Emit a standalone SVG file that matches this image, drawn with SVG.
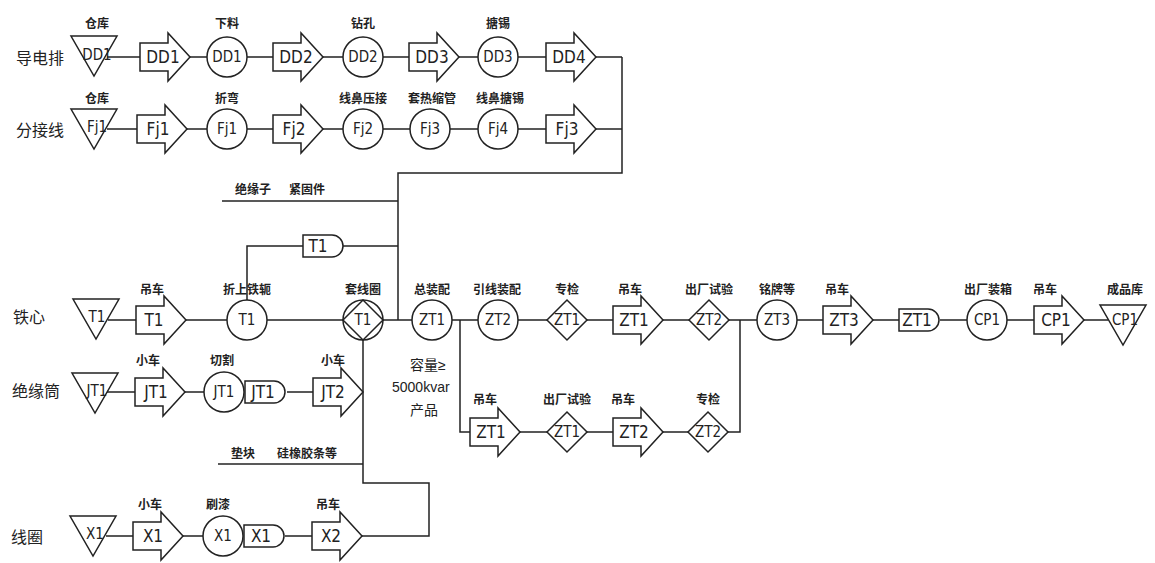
<svg xmlns="http://www.w3.org/2000/svg" xmlns:xlink="http://www.w3.org/1999/xlink" width="1155" height="563" viewBox="0 0 1155 563">
<style>
.s{fill:#fff;stroke:#222;stroke-width:1.5}
.ln{fill:none;stroke:#222;stroke-width:1.5}
.n{font-family:"Liberation Sans Narrow","DejaVu Sans Condensed","Liberation Sans",sans-serif;font-size:17px;fill:#222;text-anchor:middle;dominant-baseline:central}
.m{font-family:"Liberation Sans Narrow","DejaVu Sans Condensed","Liberation Sans",sans-serif;font-size:15px;fill:#222;text-anchor:middle;dominant-baseline:central}
.c{font-family:"Noto Sans CJK SC",sans-serif;font-size:12px;font-weight:bold;fill:#222;text-anchor:middle;dominant-baseline:central}
.side{font-family:"Noto Sans CJK SC",sans-serif;font-size:16px;fill:#222;text-anchor:middle;dominant-baseline:central}
.t{font-family:"Liberation Sans","Noto Sans CJK SC",sans-serif;font-size:14px;fill:#222;dominant-baseline:central}
</style>
<defs>
<path id="arr" class="s" d="M0,-14 H28 V-24 L50,0 L28,24 V14 H0 Z"/>
<path id="tri" class="s" d="M-23,-20 H23 L0,20 Z"/>
<circle id="cir" class="s" r="20"/>
<path id="dia" class="s" d="M-20,0 L0,-20 L20,0 L0,20 Z"/>
<path id="dbox" class="s" d="M0,-11 H29 A11,11 0 0 1 29,11 H0 Z"/>
</defs>
<rect width="1155" height="563" fill="#fff"/>

<g id="connectors" class="ln">
<path d="M107,57 H140 M190,57 H207 M247,57 H273 M323,57 H343 M383,57 H409 M459,57 H478 M518,57 H546 M596,57 H622"/>
<path d="M107,129 H137 M187,129 H207 M247,129 H273 M323,129 H343 M383,129 H410 M450,129 H478 M518,129 H546 M596,129 H622"/>
<path d="M622,57 V173 H398 V320"/>
<path d="M222,201 H398"/>
<path d="M343,246 H398 M303,246 H247 V300"/>
<path d="M108,320 H136 M186,320 H227 M267,320 H343 M383,320 H412 M452,320 H478 M518,320 H547 M587,320 H613 M663,320 H689 M729,320 H757 M797,320 H823 M873,320 H899 M940,320 H967 M1007,320 H1034 M1084,320 H1108"/>
<path d="M460,320 V432 H470 M520,432 H547 M587,432 H613 M663,432 H688 M728,432 H740 V320"/>
<path d="M107,392 H135 M185,392 H204 M287,392 H313"/>
<path d="M363,340 V483 H429 V536 H362"/>
<path d="M218,464 H363"/>
<path d="M106,536 H133 M183,536 H203 M285,536 H312"/>
</g>

<g id="side-labels">
<text class="side" x="40" y="57">导电排</text>
<text class="side" x="40" y="129">分接线</text>
<text class="side" x="29" y="316">铁心</text>
<text class="side" x="36" y="390">绝缘筒</text>
<text class="side" x="27" y="536">线圈</text>
</g>

<g id="DD1-store"><use href="#tri" x="94" y="56"/><text class="m" x="97" y="55">DD1</text><text class="c" x="97" y="22">仓库</text></g>
<g id="DD1-move"><use href="#arr" x="140" y="57"/><text class="n" x="163" y="57">DD1</text></g>
<g id="DD1-op"><use href="#cir" x="227" y="57"/><text class="m" x="227" y="57">DD1</text><text class="c" x="227" y="22">下料</text></g>
<g id="DD2-move"><use href="#arr" x="273" y="57"/><text class="n" x="296" y="57">DD2</text></g>
<g id="DD2-op"><use href="#cir" x="363" y="57"/><text class="m" x="363" y="57">DD2</text><text class="c" x="363" y="22">钻孔</text></g>
<g id="DD3-move"><use href="#arr" x="409" y="57"/><text class="n" x="432" y="57">DD3</text></g>
<g id="DD3-op"><use href="#cir" x="498" y="57"/><text class="m" x="498" y="57">DD3</text><text class="c" x="498" y="22">搪锡</text></g>
<g id="DD4-move"><use href="#arr" x="546" y="57"/><text class="n" x="569" y="57">DD4</text></g>

<g id="Fj1-store"><use href="#tri" x="94" y="129"/><text class="m" x="97" y="127">Fj1</text><text class="c" x="97" y="97">仓库</text></g>
<g id="Fj1-move"><use href="#arr" x="137" y="129"/><text class="n" x="158" y="129">Fj1</text></g>
<g id="Fj1-op"><use href="#cir" x="227" y="129"/><text class="m" x="227" y="129">Fj1</text><text class="c" x="227" y="97">折弯</text></g>
<g id="Fj2-move"><use href="#arr" x="273" y="129"/><text class="n" x="294" y="129">Fj2</text></g>
<g id="Fj2-op"><use href="#cir" x="363" y="129"/><text class="m" x="363" y="129">Fj2</text><text class="c" x="363" y="97">线鼻压接</text></g>
<g id="Fj3-op"><use href="#cir" x="430" y="129"/><text class="m" x="430" y="129">Fj3</text><text class="c" x="432" y="97">套热缩管</text></g>
<g id="Fj4-op"><use href="#cir" x="498" y="129"/><text class="m" x="498" y="129">Fj4</text><text class="c" x="500" y="97">线鼻搪锡</text></g>
<g id="Fj3-move"><use href="#arr" x="546" y="129"/><text class="n" x="567" y="129">Fj3</text></g>

<g id="parts-1"><text class="c" x="253" y="188">绝缘子</text><text class="c" x="307" y="188">紧固件</text></g>
<g id="T1-delay"><use href="#dbox" x="303" y="246"/><text class="n" x="318" y="246">T1</text></g>

<g id="T1-store"><use href="#tri" x="96" y="319"/><text class="m" x="97" y="317">T1</text></g>
<g id="T1-move"><use href="#arr" x="136" y="320"/><text class="n" x="154" y="320">T1</text><text class="c" x="152" y="288">吊车</text></g>
<g id="T1-op"><use href="#cir" x="247" y="320"/><text class="m" x="247" y="320">T1</text><text class="c" x="247" y="288">折上铁轭</text></g>
<g id="T1-combo"><use href="#cir" x="363" y="320"/><use href="#dia" x="363" y="320"/><text class="m" x="363" y="320">T1</text><text class="c" x="363" y="288">套线圈</text></g>
<g id="ZT1-op"><use href="#cir" x="432" y="320"/><text class="m" x="432" y="320">ZT1</text><text class="c" x="432" y="288">总装配</text></g>
<g id="ZT2-op"><use href="#cir" x="498" y="320"/><text class="m" x="498" y="320">ZT2</text><text class="c" x="497" y="288">引线装配</text></g>
<g id="ZT1-check"><use href="#dia" x="567" y="320"/><text class="m" x="567" y="320">ZT1</text><text class="c" x="567" y="288">专检</text></g>
<g id="ZT1-move"><use href="#arr" x="613" y="320"/><text class="n" x="634" y="320">ZT1</text><text class="c" x="630" y="288">吊车</text></g>
<g id="ZT2-check"><use href="#dia" x="709" y="320"/><text class="m" x="709" y="320">ZT2</text><text class="c" x="709" y="288">出厂试验</text></g>
<g id="ZT3-op"><use href="#cir" x="777" y="320"/><text class="m" x="777" y="320">ZT3</text><text class="c" x="777" y="288">铭牌等</text></g>
<g id="ZT3-move"><use href="#arr" x="823" y="320"/><text class="n" x="844" y="320">ZT3</text><text class="c" x="837" y="288">吊车</text></g>
<g id="ZT1-delay"><use href="#dbox" x="899" y="320"/><text class="n" x="917" y="320">ZT1</text></g>
<g id="CP1-op"><use href="#cir" x="987" y="320"/><text class="m" x="987" y="320">CP1</text><text class="c" x="988" y="288">出厂装箱</text></g>
<g id="CP1-move"><use href="#arr" x="1034" y="320"/><text class="n" x="1056" y="320">CP1</text><text class="c" x="1045" y="288">吊车</text></g>
<g id="CP1-store"><use href="#tri" x="1123" y="325"/><text class="m" x="1125" y="320">CP1</text><text class="c" x="1125" y="288">成品库</text></g>

<g id="capacity-note">
<text class="t" x="410" y="365">容量≥</text>
<text class="t" x="392" y="387">5000kvar</text>
<text class="t" x="410" y="410">产品</text>
</g>

<g id="ZT1-move-b"><use href="#arr" x="470" y="432"/><text class="n" x="491" y="432">ZT1</text><text class="c" x="485" y="398">吊车</text></g>
<g id="ZT1-check-b"><use href="#dia" x="567" y="432"/><text class="m" x="567" y="432">ZT1</text><text class="c" x="567" y="398">出厂试验</text></g>
<g id="ZT2-move-b"><use href="#arr" x="613" y="432"/><text class="n" x="634" y="432">ZT2</text><text class="c" x="623" y="398">吊车</text></g>
<g id="ZT2-check-b"><use href="#dia" x="708" y="432"/><text class="m" x="708" y="432">ZT2</text><text class="c" x="708" y="398">专检</text></g>

<g id="JT1-store"><use href="#tri" x="95" y="393"/><text class="m" x="97" y="391">JT1</text></g>
<g id="JT1-move"><use href="#arr" x="135" y="392"/><text class="n" x="156" y="392">JT1</text><text class="c" x="148" y="359">小车</text></g>
<g id="JT1-op"><use href="#cir" x="224" y="392"/><text class="m" x="224" y="392">JT1</text><text class="c" x="222" y="359">切割</text></g>
<g id="JT1-delay"><use href="#dbox" x="245" y="392"/><text class="n" x="263" y="392">JT1</text></g>
<g id="JT2-move"><use href="#arr" x="313" y="392"/><text class="n" x="333" y="392">JT2</text><text class="c" x="333" y="359">小车</text></g>

<g id="parts-2"><text class="c" x="243" y="452">垫块</text><text class="c" x="307" y="452">硅橡胶条等</text></g>

<g id="X1-store"><use href="#tri" x="93" y="536"/><text class="m" x="95" y="534">X1</text></g>
<g id="X1-move"><use href="#arr" x="133" y="536"/><text class="n" x="153" y="536">X1</text><text class="c" x="150" y="503">小车</text></g>
<g id="X1-op"><use href="#cir" x="223" y="536"/><text class="m" x="223" y="536">X1</text><text class="c" x="218" y="503">刷漆</text></g>
<g id="X1-delay"><use href="#dbox" x="244" y="536"/><text class="n" x="261" y="536">X1</text></g>
<g id="X2-move"><use href="#arr" x="312" y="536"/><text class="n" x="331" y="536">X2</text><text class="c" x="328" y="503">吊车</text></g>
</svg>
